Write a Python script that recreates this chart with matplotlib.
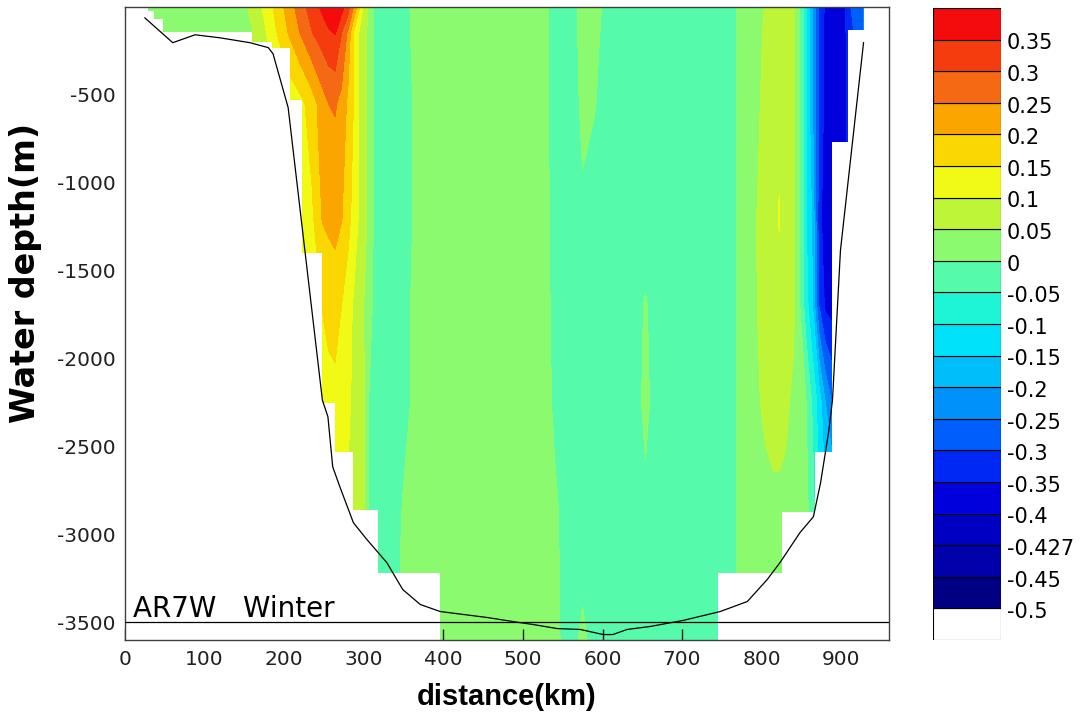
import matplotlib
matplotlib.use("Agg")
import matplotlib.pyplot as plt

plt.rcParams["font.family"] = "DejaVu Sans"
plt.rcParams["axes.unicode_minus"] = False

# distance along the AR7W line of each velocity column (km)
dist_km = [0, 50, 100, 150, 160, 175, 190, 205, 220, 235,
           248, 256, 264, 272, 280, 287, 294, 300, 306, 312,
           325, 345, 360, 380, 450, 525, 540, 560, 575, 590,
           610, 630, 644, 654, 664, 700, 740, 765, 775, 790,
           805, 815, 822, 830, 840, 848, 856, 864, 872, 880,
           888, 896, 904, 912, 920, 928, 945, 960]

# depth of each velocity row (m)
depth_m = [0, -150, -550, -1200, -1700, -2250, -2800, -3100, -3600]

# along-section velocity (m/s), one list per depth row
vel_0 = [0.02, 0.02, 0.025, 0.04, 0.065, 0.11, 0.165, 0.22, 0.275, 0.325,
         0.36, 0.38, 0.395, 0.37, 0.325, 0.25, 0.16, 0.09, 0.035, 0.0,
         -0.025, -0.02, 0.003, 0.025, 0.025, 0.008, -0.01, -0.01, 0.008, 0.008,
         -0.01, -0.012, -0.012, -0.012, -0.012, -0.012, -0.01, -0.01, 0.02, 0.035,
         0.052, 0.075, 0.08, 0.075, 0.06, 0.0, -0.1, -0.2, -0.3, -0.36,
         -0.38, -0.38, -0.36, -0.3, -0.28, -0.25, -0.2, -0.2]
vel_150 = [0.02, 0.02, 0.025, 0.035, 0.048, 0.09, 0.146, 0.2, 0.25, 0.297,
           0.325, 0.343, 0.352, 0.30, 0.24, 0.15, 0.095, 0.07, 0.04, 0.0,
           -0.03, -0.025, 0.002, 0.025, 0.025, 0.008, -0.01, -0.01, 0.007, 0.005,
           -0.01, -0.012, -0.012, -0.012, -0.012, -0.012, -0.01, -0.01, 0.02, 0.036,
           0.055, 0.078, 0.085, 0.078, 0.062, 0.0, -0.1, -0.2, -0.31, -0.37,
           -0.385, -0.385, -0.36, -0.32, -0.28, -0.25, -0.2, -0.2]
vel_550 = [0.03, 0.03, 0.03, 0.04, 0.05, 0.07, 0.09, 0.11, 0.133, 0.175,
           0.227, 0.25, 0.255, 0.235, 0.19, 0.15, 0.095, 0.07, 0.04, 0.0,
           -0.03, -0.025, -0.002, 0.022, 0.025, 0.008, -0.008, -0.01, 0.004, 0.001,
           -0.01, -0.012, -0.012, -0.012, -0.012, -0.012, -0.01, -0.01, 0.02, 0.04,
           0.058, 0.082, 0.092, 0.08, 0.064, 0.0, -0.1, -0.2, -0.3, -0.37,
           -0.39, -0.385, -0.36, -0.33, -0.3, -0.27, -0.2, -0.2]
vel_1200 = [0.03, 0.03, 0.03, 0.04, 0.05, 0.06, 0.07, 0.09, 0.11, 0.14,
            0.203, 0.208, 0.212, 0.203, 0.17, 0.13, 0.095, 0.07, 0.04, 0.0,
            -0.052, -0.025, -0.002, 0.02, 0.025, 0.008, -0.007, -0.01, -0.003, -0.008,
            -0.01, -0.012, -0.012, -0.012, -0.012, -0.012, -0.01, -0.01, 0.02, 0.045,
            0.065, 0.09, 0.102, 0.085, 0.062, 0.0, -0.1, -0.16, -0.33, -0.38,
            -0.39, -0.385, -0.36, -0.33, -0.3, -0.27, -0.2, -0.2]
vel_1700 = [0.03, 0.03, 0.03, 0.04, 0.05, 0.06, 0.07, 0.08, 0.1, 0.12,
            0.152, 0.172, 0.178, 0.15, 0.12, 0.095, 0.075, 0.05, 0.02, -0.005,
            -0.03, -0.025, 0.002, 0.02, 0.025, 0.008, -0.005, -0.01, -0.008, -0.01,
            -0.01, -0.012, -0.006, 0.002, -0.006, -0.012, -0.01, -0.01, 0.02, 0.045,
            0.062, 0.085, 0.09, 0.08, 0.06, 0.0, -0.08, -0.15, -0.3, -0.36,
            -0.37, -0.37, -0.35, -0.32, -0.3, -0.27, -0.2, -0.2]
vel_2250 = [0.03, 0.03, 0.03, 0.04, 0.05, 0.06, 0.07, 0.08, 0.1, 0.11,
            0.12, 0.125, 0.13, 0.13, 0.11, 0.09, 0.07, 0.057, 0.0, -0.01,
            -0.03, -0.02, 0.002, 0.02, 0.025, 0.008, -0.003, -0.01, -0.01, -0.01,
            -0.01, -0.012, -0.006, 0.006, -0.006, -0.012, -0.01, -0.01, 0.02, 0.04,
            0.058, 0.07, 0.07, 0.06, 0.04, 0.02, 0.0, -0.06, -0.12, -0.2,
            -0.25, -0.25, -0.2, -0.2, -0.2, -0.2, -0.2, -0.2]
vel_2800 = [0.03, 0.03, 0.03, 0.04, 0.05, 0.06, 0.07, 0.08, 0.09, 0.1,
            0.1, 0.1, 0.1, 0.1, 0.095, 0.09, 0.075, 0.062, 0.0, -0.012,
            -0.02, -0.003, 0.01, 0.02, 0.025, 0.01, 0.002, -0.008, -0.01, -0.01,
            -0.01, -0.012, -0.006, -0.004, -0.006, -0.012, -0.01, -0.01, 0.02, 0.03,
            0.04, 0.042, 0.042, 0.04, 0.03, 0.02, 0.01, -0.03, -0.12, -0.15,
            -0.15, -0.15, -0.15, -0.15, -0.15, -0.15, -0.15, -0.15]
vel_3100 = [0.03, 0.03, 0.03, 0.04, 0.05, 0.06, 0.07, 0.08, 0.09, 0.09,
            0.09, 0.09, 0.09, 0.09, 0.09, 0.08, 0.06, 0.04, -0.005, -0.012,
            -0.02, -0.001, 0.012, 0.02, 0.025, 0.01, 0.003, -0.008, -0.008, -0.01,
            -0.01, -0.012, -0.01, -0.01, -0.01, -0.012, -0.01, -0.01, 0.02, 0.03,
            0.035, 0.035, 0.035, 0.035, 0.03, 0.02, 0.01, 0.0, -0.05, -0.1,
            -0.1, -0.1, -0.1, -0.1, -0.1, -0.1, -0.1, -0.1]
vel_3600 = [0.03, 0.03, 0.03, 0.04, 0.05, 0.06, 0.07, 0.08, 0.09, 0.09,
            0.09, 0.09, 0.09, 0.09, 0.09, 0.08, 0.06, 0.04, 0.0, -0.01,
            -0.015, 0.0, 0.012, 0.02, 0.025, 0.012, 0.004, -0.008, 0.005, -0.008,
            -0.01, -0.012, -0.01, -0.01, -0.01, -0.012, -0.01, -0.01, 0.02, 0.03,
            0.03, 0.03, 0.03, 0.03, 0.03, 0.02, 0.01, 0.0, -0.05, -0.1,
            -0.1, -0.1, -0.1, -0.1, -0.1, -0.1, -0.1, -0.1]
velocity = [vel_0, vel_150, vel_550, vel_1200, vel_1700,
            vel_2250, vel_2800, vel_3100, vel_3600]

# deepest sampled level of each distance bin (step starts at sample_km)
sample_km = [0, 29, 37, 48, 160, 185, 207, 222, 247, 264,
             287, 318, 396, 745, 826, 867, 888, 908, 928, 960]
sample_bottom = [0, -25, -70, -140, -200, -235, -530, -1400, -2250, -2530,
                 -2860, -3217, -3600, -3217, -2870, -2530, -770, -130, 0, 0]

# bottom topography along the section
topo_km = [25, 60, 88, 119, 157, 180, 186, 205, 226, 248,
           255, 261, 270, 287, 304, 329, 349, 371, 396, 455,
           496, 513, 543, 572, 601, 613, 631, 660, 701, 748,
           782, 807, 823, 848, 865, 874, 884, 889, 899, 928]
topo_depth = [-62, -203, -158, -175, -203, -231, -266, -572, -1384, -2235,
              -2331, -2615, -2729, -2933, -3029, -3160, -3313, -3398, -3438, -3472,
              -3501, -3512, -3535, -3540, -3569, -3569, -3540, -3523, -3489, -3438,
              -3381, -3256, -3160, -2990, -2899, -2706, -2422, -2235, -1384, -203]

levels = [-1.0, -0.5, -0.45, -0.427, -0.4, -0.35, -0.3, -0.25, -0.2, -0.15, -0.1,
          -0.05, 0.0, 0.05, 0.1, 0.15, 0.2, 0.25, 0.3, 0.35, 1.0]
level_colors = ["#FFFFFF", "#000082", "#0000AA", "#0000C3", "#0000DC", "#0028F5",
                "#005FFA", "#0091FA", "#00BEFA", "#00E1FA", "#1EF5D7", "#55FAAA",
                "#8CFA6E", "#BEF537", "#F0FA14", "#FAD700", "#FAA500", "#F56914",
                "#F53C0F", "#F40C0C"]

fig = plt.figure(figsize=(10.83, 7.21), dpi=100)
ax = fig.add_axes([125 / 1083, 1 - 640 / 721, 764 / 1083, 633 / 721])

ax.contourf(dist_km, depth_m, velocity, levels=levels, colors=level_colors, zorder=1)
# blank out bins below the deepest measurement
ax.fill_between(sample_km, sample_bottom, -3700, step="post",
                color="white", linewidth=0, zorder=2)
ax.plot(topo_km, topo_depth, color="black", linewidth=0.9, zorder=3)
ax.axhline(-3500, color="black", linewidth=0.9, zorder=3)
ax.text(10, -3472, "AR7W   Winter", fontsize=20, va="baseline", zorder=4)

ax.set_xlim(0, 960)
ax.set_ylim(-3600, 0)
ax.set_xticks(range(0, 901, 100))
ax.set_yticks(range(-3500, 0, 500))
ax.tick_params(direction="in", length=8, width=1, right=True, top=False,
               labelsize=14.5, pad=7, colors="#202020")
for sp in ax.spines.values():
    sp.set_color("#404040")
    sp.set_linewidth(1)
ax.set_xlabel("distance(km)", fontsize=21, fontweight="bold",
              family="Liberation Sans", labelpad=10)
ax.set_ylabel("Water depth(m)", fontsize=24, fontweight="bold")
ax.yaxis.set_label_coords(-0.109, 0.58)

# legend bar: one box per contour interval, labels on the interval edges
cax = fig.add_axes([933 / 1083, 1 - 640 / 721, 68 / 1083, 632 / 721])
for i, c in enumerate(level_colors):
    cax.bar(0, 1, bottom=i, width=1, align="edge", color=c,
            edgecolor="black", linewidth=0.8)
for i, v in enumerate(levels[1:-1], start=1):
    cax.text(1.09, i - 0.12, f"{v:g}", fontsize=15, va="center", ha="left",
             transform=cax.get_yaxis_transform())
cax.set_xlim(0, 1)
cax.set_ylim(0, len(level_colors))
cax.axis("off")

fig.savefig("out.png", dpi=100)
